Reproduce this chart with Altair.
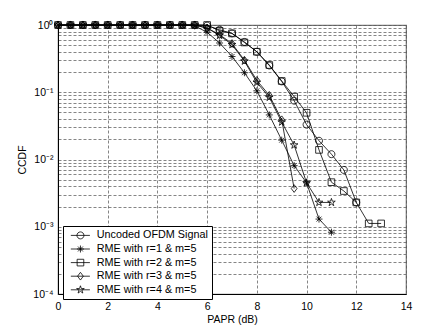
import altair as alt
import pandas as pd

# ---------------- data ----------------
papr_db = [0.0, 0.5, 1.0, 1.5, 2.0, 2.5, 3.0, 3.5, 4.0, 4.5, 5.0, 5.5,
           6.0, 6.5, 7.0, 7.5, 8.0, 8.5, 9.0, 9.5, 10.0, 10.5, 11.0,
           11.5, 12.0, 12.5, 13.0]

series_names = ["Uncoded OFDM Signal", "RME with r=1 & m=5", "RME with r=2 & m=5",
                "RME with r=3 & m=5", "RME with r=4 & m=5"]

ccdf_uncoded = [1, 1, 1, 1, 1, 1, 1, 1, 1, 1, 1, 1,
                0.98, 0.85, 0.75, 0.56, 0.40, 0.25, 0.145, 0.075, 0.033,
                0.019, 0.012, 0.007, 0.0023]
ccdf_r1 = [1, 1, 1, 1, 1, 1, 1, 1, 1, 1, 1, 0.97,
           0.78, 0.54, 0.34, 0.195, 0.105, 0.046, 0.0194, 0.0081, 0.0045,
           0.0013, 0.00083]
ccdf_r2 = [1, 1, 1, 1, 1, 1, 1, 1, 1, 1, 1, 1,
           1.0, 0.82, 0.75, 0.55, 0.40, 0.254, 0.147, 0.086, 0.0495,
           0.0139, 0.0046, 0.0034, 0.0023, 0.00112, 0.00112]
ccdf_r3 = [1, 1, 1, 1, 1, 1, 1, 1, 1, 1, 1, 1,
           0.9, 0.72, 0.53, 0.30, 0.15, 0.09, 0.039, 0.0037]
ccdf_r4 = [1, 1, 1, 1, 1, 1, 1, 1, 1, 1, 1, 1,
           0.9, 0.70, 0.51, 0.29, 0.14, 0.084, 0.036, 0.0164, 0.0045,
           0.0023, 0.0023]

x_ticks = [0, 2, 4, 6, 8, 10, 12, 14]
y_decades = [0.0001, 0.001, 0.01, 0.1, 1]

rows = []
for name, vals in zip(series_names, [ccdf_uncoded, ccdf_r1, ccdf_r2, ccdf_r3, ccdf_r4]):
    for x, v in zip(papr_db, vals):
        rows.append({"series": name, "papr": x, "ccdf": v})
df = pd.DataFrame(rows)

y_grid = [m * 10.0 ** k for k in range(-4, 0) for m in range(1, 10)] + [1]

# ---------------- marker geometry ----------------
def f(v):
    return f"{v:.3f}"

def circle(cx=0.0, r=1.0):
    return f"M{f(cx + r)},0A{r},{r} 0 1 1 {f(cx - r)},0A{r},{r} 0 1 1 {f(cx + r)},0Z"

def asterisk(cx=0.0, r=1.0):
    d = 0.7 * r
    return (f"M{f(cx - r)},0H{f(cx + r)}M{f(cx)},{f(-r)}V{f(r)}"
            f"M{f(cx - d)},{f(-d)}L{f(cx + d)},{f(d)}M{f(cx - d)},{f(d)}L{f(cx + d)},{f(-d)}")

def square(cx=0.0, r=0.95):
    return f"M{f(cx - r)},{f(-r)}H{f(cx + r)}V{f(r)}H{f(cx - r)}Z"

def diamond(cx=0.0, r=1.1):
    return f"M{f(cx)},{f(-r)}L{f(cx + 0.75 * r)},0L{f(cx)},{f(r)}L{f(cx - 0.75 * r)},0Z"

def pentagram(cx=0.0, r=1.15):
    import math
    pts = []
    for i in range(10):
        ang = math.radians(-90 + 36 * i)
        rr = r if i % 2 == 0 else r * 0.382
        pts.append((cx + rr * math.cos(ang), rr * math.sin(ang)))
    return "M" + "L".join(f"{f(px)},{f(py)}" for px, py in pts) + "Z"

makers = [circle, asterisk, square, diamond, pentagram]
marker_paths = [m() for m in makers]

LINE_L, LINE_R, MARK_C = -0.45, 5.0, 2.3
legend_paths = [f"M{LINE_L},0H{LINE_R}" + m(cx=MARK_C) for m in makers]

FONT = "Liberation Sans"

x_enc = alt.X("papr:Q", scale=alt.Scale(domain=[0, 14], nice=False, zero=False),
              axis=alt.Axis(values=x_ticks, title="PAPR (dB)", ticks=False,
                            labelPadding=7, titlePadding=3, labelFlush=False,
                            grid=True))
y_enc = alt.Y("ccdf:Q", scale=alt.Scale(type="log", domain=[0.0001, 1], nice=False),
              axis=alt.Axis(values=y_grid, title="CCDF", ticks=False,
                            labelPadding=5, titlePadding=5, labelOverlap=False,
                            labelFlush=False,
                            labelExpr=("datum.value == 1 ? '10\u2070' : "
                                       "datum.value == 0.1 ? '10\u207b\u00b9' : "
                                       "datum.value == 0.01 ? '10\u207b\u00b2' : "
                                       "datum.value == 0.001 ? '10\u207b\u00b3' : "
                                       "datum.value == 0.0001 ? '10\u207b\u2074' : ''"),
                            grid=True))

base = alt.Chart(df)

lines = base.mark_line(color="black", strokeWidth=0.8).encode(
    x=x_enc, y=y_enc, detail="series:N", order="papr:Q")

points = base.mark_point(filled=False, color="black", strokeWidth=0.8, size=49, opacity=1).encode(
    x=x_enc, y=y_enc,
    shape=alt.Shape("series:N", scale=alt.Scale(domain=series_names, range=marker_paths),
                    legend=None))

legend_layer = base.transform_filter("false").mark_point(
    filled=False, color="black", strokeWidth=0.8, size=49, opacity=1).encode(
    x=x_enc, y=y_enc,
    shape=alt.Shape("series:N", scale=alt.Scale(domain=series_names, range=legend_paths),
                    legend=alt.Legend(orient="none", legendX=5, legendY=201, title=None,
                                      fillColor="white", strokeColor="black",
                                      padding=4, rowPadding=1.6, symbolSize=49,
                                      symbolStrokeWidth=0.8, symbolStrokeColor="black",
                                      symbolFillColor="transparent", symbolOpacity=1,
                                      labelFont=FONT, labelFontSize=10.8, labelColor="black",
                                      labelOffset=19, labelLimit=300)))

chart = alt.layer(lines, points, legend_layer).resolve_scale(shape="independent").properties(
    width=348, height=269,
    autosize=alt.AutoSizeParams(type="none"),
    padding={"left": 50, "top": 17, "right": 34, "bottom": 34},
    background="white",
).configure_view(stroke="#777", strokeWidth=1.2).configure_axis(
    labelFont=FONT, titleFont=FONT, labelFontSize=10.5, titleFontSize=10.5,
    titleFontWeight="normal", labelColor="black", titleColor="black",
    domainColor="black", domainWidth=1,
    gridColor="#555", gridDash=[3, 2], gridWidth=0.8, gridOpacity=0.9,
)

chart.save("out.html", embed_options={"renderer": "svg", "actions": False})
